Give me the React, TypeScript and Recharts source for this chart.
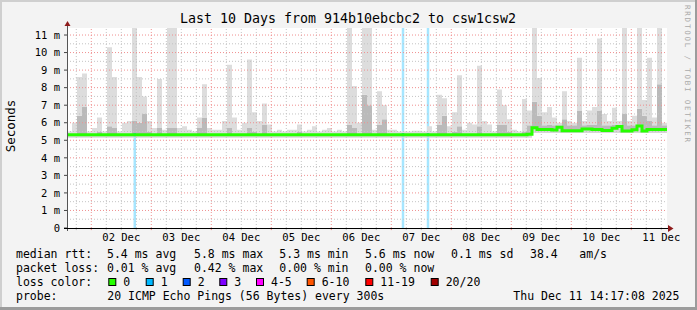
import { ComposedChart, Area, Line, XAxis, YAxis, CartesianGrid, ReferenceLine, ReferenceArea } from "recharts";

const START_HOUR = 14 + 17 / 60 + 8 / 3600; // 01 Dec 14:17:08, in hours from 01 Dec 00:00
const SPAN_HOURS = 240;
const BIN_HOURS = 2;
const Y_MAX = 11.4;
const FONT = "'DejaVu Sans Mono', monospace";

// median rtt per 2h bin (ms)
const medianRtt = [
  5.32, 5.32, 5.32, 5.32, 5.32, 5.32, 5.32, 5.32, 5.32, 5.32,
  5.32, 5.32, 5.32, 5.32, 5.32, 5.32, 5.32, 5.32, 5.32, 5.32,
  5.32, 5.32, 5.32, 5.32, 5.32, 5.32, 5.32, 5.32, 5.32, 5.32,
  5.32, 5.32, 5.32, 5.32, 5.32, 5.32, 5.32, 5.32, 5.32, 5.32,
  5.32, 5.32, 5.32, 5.32, 5.32, 5.32, 5.32, 5.32, 5.32, 5.32,
  5.32, 5.32, 5.32, 5.32, 5.32, 5.32, 5.32, 5.32, 5.32, 5.32,
  5.32, 5.32, 5.32, 5.32, 5.32, 5.32, 5.32, 5.32, 5.32, 5.32,
  5.32, 5.32, 5.32, 5.32, 5.32, 5.32, 5.32, 5.32, 5.32, 5.32,
  5.32, 5.32, 5.32, 5.32, 5.32, 5.32, 5.32, 5.32, 5.32, 5.32,
  5.32, 5.32, 5.34, 5.72, 5.62, 5.62, 5.62, 5.58, 5.74, 5.55,
  5.55, 5.55, 5.55, 5.64, 5.64, 5.62, 5.62, 5.56, 5.56, 5.68,
  5.79, 5.53, 5.53, 5.60, 5.82, 5.53, 5.62, 5.62, 5.62, 5.62,
];

// bottom of the smoke
const smokeLow = [
  5.15, 5.15, 5.15, 5.15, 5.15, 5.15, 5.15, 5.15, 5.15, 5.15,
  5.15, 5.15, 5.15, 5.15, 5.15, 5.15, 5.15, 5.15, 5.15, 5.15,
  5.15, 5.15, 5.15, 5.15, 5.15, 5.15, 5.15, 5.15, 5.15, 5.15,
  5.15, 5.15, 5.15, 5.15, 5.15, 5.15, 5.15, 5.15, 5.15, 5.15,
  5.15, 5.15, 5.15, 5.15, 5.15, 5.15, 5.15, 5.15, 5.15, 5.15,
  5.15, 5.15, 5.15, 5.15, 5.15, 5.15, 5.15, 5.15, 5.15, 5.15,
  5.15, 5.15, 5.15, 5.15, 5.15, 5.15, 5.15, 5.15, 5.15, 5.15,
  5.15, 5.15, 5.15, 5.15, 5.15, 5.15, 5.15, 5.15, 5.15, 5.15,
  5.15, 5.15, 5.15, 5.15, 5.15, 5.15, 5.15, 5.15, 5.15, 5.15,
  5.15, 5.15, 5.15, 5.42, 5.42, 5.42, 5.42, 5.42, 5.42, 5.42,
  5.42, 5.42, 5.42, 5.42, 5.42, 5.42, 5.42, 5.42, 5.42, 5.42,
  5.42, 5.42, 5.42, 5.42, 5.42, 5.42, 5.42, 5.42, 5.42, 5.42,
];

// top of the dense (darker) smoke
const smokeDark = [
  5.38, 5.38, 6.4, 6.9, 5.38, 5.38, 5.5, 5.38, 5.8, 5.7,
  5.38, 5.38, 5.38, 6.1, 6.0, 6.5, 5.5, 5.38, 5.7, 5.38,
  5.7, 5.7, 5.38, 5.38, 5.38, 5.38, 5.7, 6.3, 5.38, 5.38,
  5.38, 5.38, 5.7, 5.38, 5.38, 5.38, 5.7, 5.5, 5.38, 5.9,
  5.38, 5.38, 5.38, 5.38, 5.38, 5.38, 5.5, 5.38, 5.38, 5.38,
  5.38, 5.38, 5.38, 5.38, 5.38, 5.38, 5.9, 5.7, 5.38, 7.6,
  7.0, 5.38, 5.9, 6.2, 5.38, 5.38, 5.38, 5.38, 5.38, 5.38,
  5.38, 5.38, 5.38, 5.38, 5.9, 6.4, 5.38, 5.5, 5.8, 5.38,
  5.38, 5.38, 5.8, 5.38, 5.38, 5.38, 5.9, 5.9, 5.5, 5.38,
  5.38, 5.5, 5.85, 7.2, 6.4, 5.85, 5.9, 5.85, 5.85, 6.2,
  5.85, 5.85, 6.7, 5.85, 5.9, 5.9, 6.7, 5.85, 5.85, 5.9,
  5.9, 6.5, 5.85, 5.85, 6.8, 6.4, 6.1, 5.85, 8.2, 5.85,
];

// top of the smoke (highest ping)
const smokeHigh = [
  5.5, 6.0, 8.6, 8.8, 5.5, 5.7, 6.3, 5.5, 10.3, 8.6,
  5.5, 6.0, 6.1, 11.4, 8.6, 7.5, 6.1, 5.7, 8.5, 5.6,
  11.4, 11.4, 5.7, 5.8, 5.6, 5.5, 6.3, 8.2, 5.7, 5.6,
  5.6, 6.1, 9.3, 6.3, 5.6, 6.0, 9.6, 6.6, 6.1, 7.1,
  5.9, 5.5, 5.6, 5.5, 5.6, 5.6, 5.9, 5.5, 5.6, 5.8,
  5.5, 5.6, 5.7, 5.5, 5.6, 5.5, 11.4, 8.1, 6.0, 11.4,
  11.4, 5.6, 7.8, 7.0, 5.6, 5.6, 5.5, 5.5, 5.5, 5.55,
  5.55, 5.5, 5.8, 5.5, 7.6, 7.4, 5.8, 6.6, 8.7, 5.6,
  6.0, 5.9, 9.25, 6.1, 5.9, 5.5, 7.9, 7.0, 6.2, 5.6,
  5.5, 7.35, 6.7, 11.4, 8.55, 6.6, 6.9, 6.3, 6.0, 7.8,
  6.1, 6.0, 9.7, 6.1, 6.7, 6.9, 10.8, 6.5, 6.1, 6.85,
  6.1, 11.4, 6.1, 6.4, 11.4, 7.3, 9.7, 6.3, 11.4, 6.0,
];

// hours since start where pings were lost, and how many of 20
const lossHours = [26.6, 133.9, 143.9];
const lossCounts = [1, 1, 1];

const dayLabels = ["02 Dec", "03 Dec", "04 Dec", "05 Dec", "06 Dec", "07 Dec", "08 Dec", "09 Dec", "10 Dec", "11 Dec"];
const yTicks = [0, 1, 2, 3, 4, 5, 6, 7, 8, 9, 10, 11];

const lossLevels = ["0", "1", "2", "3", "4-5", "6-10", "11-19", "20/20"];
const lossColors = ["#26ff00", "#00b8ff", "#0059ff", "#7e00ff", "#ff00ff", "#ff5500", "#ff0000", "#a10000"];

const rttStats = ["5.4 ms avg", "5.8 ms max", "5.3 ms min", "5.6 ms now", "0.1 ms sd", "38.4", "am/s"];
const lossStats = ["0.01 % avg", "0.42 % max", "0.00 % min", "0.00 % now"];
const probeText = "20 ICMP Echo Pings (56 Bytes) every 300s";
const stampText = "Thu Dec 11 14:17:08 2025";
const titleText = "Last 10 Days from 914b10ebcbc2 to csw1csw2";

// legend layout
const statX = [107, 194, 279.3, 365, 451, 530, 579.3];
const swatchX = [108.3, 145.7, 182.7, 219.3, 256, 306.7, 365.3, 430.7];

// rows at every bin start, plus the start/end of each loss hour (same smoke values as their bin)
const times = medianRtt.map((_, i) => i * BIN_HOURS);
lossHours.forEach((h) => times.push(h, h + 1));
times.sort((a, b) => a - b);
times.push(SPAN_HOURS);

const rows = times.map((t) => {
  const i = Math.min(Math.floor(t / BIN_HOURS), medianRtt.length - 1);
  const m = medianRtt[i];
  const lo = smokeLow[i];
  const dk = Math.max(smokeDark[i], m);
  const hi = Math.max(smokeHigh[i], dk);
  const li = lossHours.findIndex((h) => t >= h && t < h + 1);
  return {
    t, base: lo, below: m - lo, dark: dk - m, light: hi - dk, median: m,
    loss: li >= 0 && t < SPAN_HOURS ? Y_MAX : 0,
  };
});

// time grid in hours since start
const labelTicks = dayLabels.map((_, i) => 36 + 24 * i - START_HOUR);
const majorX = dayLabels.map((_, i) => 24 + 24 * i - START_HOUR);
const minorX: number[] = [];
for (let h = 18; h <= 252; h += 6) if (h % 24 !== 0) minorX.push(h - START_HOUR);
const minorY: number[] = [];
for (let v = 0.5; v < Y_MAX; v += 1) minorY.push(v);

const tickFont = { fontFamily: FONT, fontSize: 10.5, fill: "#000" };

export default function App() {
  return (
    <div style={{ position: "absolute", left: 0, top: 0, width: 697, height: 310, background: "#f3f3f3" }}>
      <ComposedChart width={697} height={310} data={rows} margin={{ top: 28, right: 30, bottom: 52, left: 7 }}>
        <CartesianGrid fill="#ffffff" horizontal={false} vertical={false} />
        <XAxis dataKey="t" type="number" domain={[0, SPAN_HOURS]} ticks={labelTicks} interval={0}
          tickFormatter={(v: number) => dayLabels[labelTicks.indexOf(v)] ?? ""}
          height={30} tickSize={0} tickMargin={6} axisLine={false} tickLine={false} tick={tickFont} />
        <YAxis type="number" domain={[0, Y_MAX]} ticks={yTicks} interval={0} allowDataOverflow width={60}
          tickFormatter={(v: number) => (v === 0 ? "0" : `${v} m`)}
          tickSize={3} tickMargin={4} axisLine={false} tickLine={{ stroke: "#444" }} tick={tickFont} />

        <Area dataKey="loss" type="stepAfter" fill={lossColors[lossCounts[0]]} fillOpacity={0.35} stroke="none"
          isAnimationActive={false} />
        <Area dataKey="base" stackId="s" type="stepAfter" fill="none" stroke="none" isAnimationActive={false} />
        <Area dataKey="below" stackId="s" type="stepAfter" fill="#d6d6d6" fillOpacity={1} stroke="none" isAnimationActive={false} />
        <Area dataKey="dark" stackId="s" type="stepAfter" fill="#bababa" fillOpacity={1} stroke="none" isAnimationActive={false} />
        <Area dataKey="light" stackId="s" type="stepAfter" fill="#dddddd" fillOpacity={1} stroke="none" isAnimationActive={false} />

        {minorY.map((v) => (
          <ReferenceLine key={"my" + v} y={v} stroke="#c4c4c4" strokeDasharray="1 2" />
        ))}
        {minorX.map((t) => (
          <ReferenceLine key={"mx" + t} x={t} stroke="#c4c4c4" strokeDasharray="1 2" />
        ))}
        {yTicks.slice(1).map((v) => (
          <ReferenceLine key={"My" + v} y={v} stroke="#f09090" strokeDasharray="1 2" />
        ))}
        {majorX.map((t) => (
          <ReferenceLine key={"Mx" + t} x={t} stroke="#f09090" strokeDasharray="1 2" />
        ))}
        {minorX.map((t) => (
          <ReferenceLine key={"tx" + t} segment={[{ x: t, y: 0 }, { x: t, y: -0.12 }]} ifOverflow="visible" stroke="#bbbbbb" />
        ))}
        {majorX.map((t) => (
          <ReferenceLine key={"Tx" + t} segment={[{ x: t, y: 0 }, { x: t, y: -0.12 }]} ifOverflow="visible" stroke="#f08080" />
        ))}

        <Line dataKey="median" type="stepAfter" stroke={lossColors[0]} strokeWidth={3} dot={false} activeDot={false} isAnimationActive={false} />

        {lossHours.map((t, i) => {
          const m = medianRtt[Math.floor(t / BIN_HOURS)];
          return (
            <ReferenceArea key={"lm" + i} x1={t} x2={t + 1} y1={m - 0.09} y2={m + 0.09}
              fill={lossColors[lossCounts[i]]} fillOpacity={1} stroke="none" />
          );
        })}
      </ComposedChart>

      <svg width={697} height={310} style={{ position: "absolute", left: 0, top: 0, pointerEvents: "none" }}
        fontFamily={FONT}>
        {/* frame */}
        <rect x={0} y={0} width={697} height={2} fill="#cfcfcf" />
        <rect x={0} y={0} width={2} height={310} fill="#cfcfcf" />
        <rect x={695} y={0} width={2} height={310} fill="#9c9c9c" />
        <rect x={0} y={307} width={697} height={3} fill="#9c9c9c" />

        {/* axes with arrows */}
        <line x1={67.5} y1={231} x2={67.5} y2={25} stroke="#555" />
        <polygon points="64.5,26 67.5,21 70.5,26" fill="#8e1b1b" />
        <line x1={64} y1={228.5} x2={669} y2={228.5} stroke="#000" />
        <polygon points="668,225 673.5,228.5 668,232" fill="#8e1b1b" />

        <text x={348} y={23} fontSize={13.3} textAnchor="middle" fill="#000">{titleText}</text>
        <text x={15} y={126} fontSize={12.5} textAnchor="middle" fill="#000" transform="rotate(-90 15 126)">Seconds</text>
        <text x={685} y={5} fontSize={7.5} fill="#aaaaaa" textLength={137} lengthAdjust="spacing"
          transform="rotate(90 685 5)">RRDTOOL / TOBI OETIKER</text>

        <g fontSize={11.5} fill="#000">
          <text x={16} y={258}>median rtt:</text>
          {rttStats.map((s, i) => <text key={"r" + i} x={statX[i]} y={258}>{s}</text>)}
          <text x={16} y={272}>packet loss:</text>
          {lossStats.map((s, i) => <text key={"p" + i} x={statX[i]} y={272}>{s}</text>)}
          <text x={16} y={286}>loss color:</text>
          {lossLevels.map((s, i) => (
            <g key={"c" + i}>
              <rect x={swatchX[i] + 0.5} y={278.5} width={7} height={7} fill={lossColors[i]} stroke="#000" />
              <text x={swatchX[i] + 15} y={286}>{s}</text>
            </g>
          ))}
          <text x={16} y={300}>probe:</text>
          <text x={107.3} y={300}>{probeText}</text>
          <text x={513.3} y={300}>{stampText}</text>
        </g>
      </svg>
    </div>
  );
}
